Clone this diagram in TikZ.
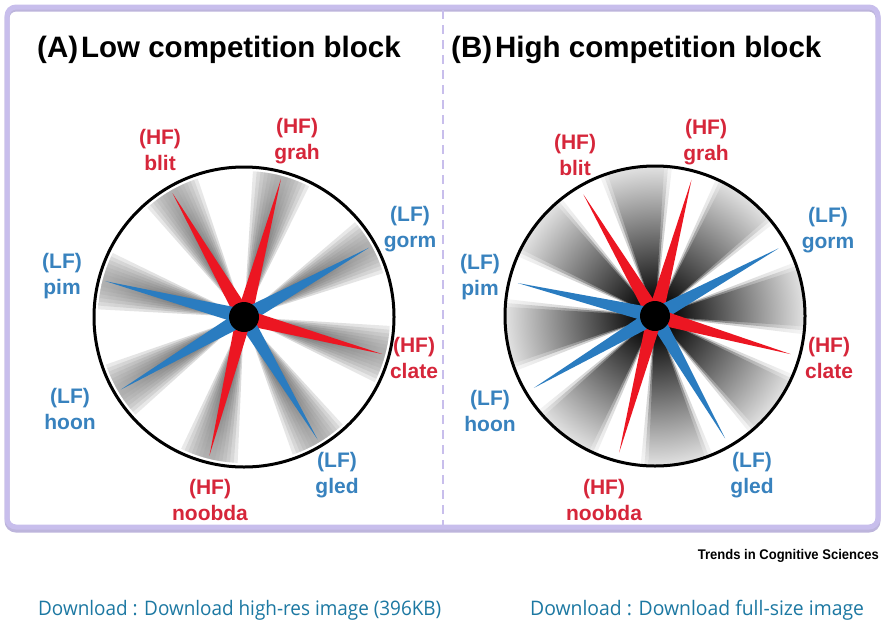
\documentclass[tikz,border=0pt]{standalone}
\usepackage{fontspec}
\setmainfont{Liberation Sans}
\newfontfamily\linkfont{Open Sans}
\usetikzlibrary{calc}
\definecolor{frameC}{RGB}{200,190,236}
\definecolor{spokeRed}{RGB}{236,22,34}
\definecolor{spokeBlue}{RGB}{42,124,192}
\definecolor{labRed}{RGB}{214,38,58}
\definecolor{labBlue}{RGB}{56,130,190}
\definecolor{linkC}{RGB}{28,120,162}
\pgfdeclareradialshading{lowshade}{\pgfpoint{0bp}{0bp}}{color(0bp)=(black!85); color(25bp)=(black!36); color(50bp)=(black!36)}
\pgfdeclareradialshading{highshade}{\pgfpoint{0bp}{0bp}}{color(0bp)=(black); color(2bp)=(black); color(25bp)=(black!12); color(50bp)=(black!12)}
\newcommand{\grayWedge}[6]{%
  \begin{scope}
    \clip (#1) -- ($(#1)+({-(#3)+(#4)}:#2)$) arc[start angle={-(#3)+(#4)}, end angle={-(#3)-(#4)}, radius=#2] -- cycle;
    \shade[shading=#5, fill opacity=#6] (#1) circle[radius=#2];
  \end{scope}}
\newcommand{\spokeTri}[5]{%
  \fill[#5] ($(#1)+({-(#2)}:#3)$) -- ($(#1)+({-(#2)+90}:#4)$) -- ($(#1)+({-(#2)-90}:#4)$) -- cycle;}
\tikzset{
  lab/.style={font=\bfseries\fontsize{21}{26}\selectfont, align=center, inner sep=0pt},
  labR/.style={lab, text=labRed},
  labB/.style={lab, text=labBlue},
  ttl/.style={font=\bfseries\fontsize{29.5}{30}\selectfont, anchor=west, inner sep=0pt},
  ring/.style={draw=black, line width=3},
  hub/.style={fill=black},
}
\begin{document}
\begin{tikzpicture}[x=1pt, y=-1pt]
\useasboundingbox (0,0) rectangle (885,624);
\fill[white] (0,0) rectangle (885,624);
% frame
\draw[frameC!85!gray, line width=5, rounded corners=9] (7,9) rectangle (878,530);
\draw[frameC, line width=5, rounded corners=9] (7,7) rectangle (878,527);
\draw[frameC, line width=1.6, dash pattern=on 9 off 6] (443,10) -- (443,525);
% titles
\node[ttl] (tA) at (37,50) {(A)\hspace{3pt}Low competition block};
\node[ttl] (tB) at (451,50) {(B)\hspace{3pt}High competition block};
% centres
\coordinate (cL) at (244,317);
\coordinate (cH) at (655,316);
% ---------- low competition ----------
\foreach \a in {120,75,29,-15,-59,-104,210.5,165.5}{
  \foreach \w in {11.5,10,8.5,7,5.5,4,2.5}{
    \grayWedge{cL}{146}{\a}{\w}{lowshade}{0.22}
  }
}
\foreach \a/\c in {120/spokeRed,75/spokeRed,29/spokeBlue,-15/spokeRed,-59/spokeBlue,-104/spokeRed,210.5/spokeBlue,165.5/spokeBlue}{
  \spokeTri{cL}{\a}{143}{7.8}{\c}
}
\fill[hub] (cL) circle[radius=15];
\draw[ring] (cL) circle[radius=150];
% ---------- high competition ----------
\foreach \a in {97.5,52,7,-37,-81.5,-127,187.5,142.5}{
  \grayWedge{cH}{149}{\a}{14}{highshade}{0.3}
  \grayWedge{cH}{149}{\a}{12.5}{highshade}{0.6}
  \grayWedge{cH}{149}{\a}{11}{highshade}{1}
}
\foreach \a/\c in {120.5/spokeRed,75/spokeRed,28.7/spokeBlue,-15.7/spokeRed,-60.2/spokeBlue,-104.7/spokeRed,210.7/spokeBlue,166.5/spokeBlue}{
  \spokeTri{cH}{\a}{141}{7.8}{\c}
}
\fill[hub] (cH) circle[radius=15];
\draw[ring] (cH) circle[radius=150];
% labels low
\node[labR] (lblit) at (160,150) {(HF)\\blit};
\node[labR] (lgrah) at (297,141) {(HF)\\grah};
\node[labB] (lgorm) at (410,229) {(LF)\\gorm};
\node[labB] (lpim) at (62,276) {(LF)\\pim};
\node[labR] (lclate) at (414,358) {(HF)\\clate};
\node[labB] (lhoon) at (70,409) {(LF)\\hoon};
\node[labB] (lgled) at (337,475) {(LF)\\gled};
\node[labR] (lnoobda) at (210,500) {(HF)\\noobda};
% labels high
\node[labR] (hblit) at (575,155) {(HF)\\blit};
\node[labR] (hgrah) at (706,142) {(HF)\\grah};
\node[labB] (hgorm) at (828,230) {(LF)\\gorm};
\node[labB] (hpim) at (480,277) {(LF)\\pim};
\node[labR] (hclate) at (829,358) {(HF)\\clate};
\node[labB] (hhoon) at (490,411) {(LF)\\hoon};
\node[labB] (hgled) at (752,475) {(LF)\\gled};
\node[labR] (hnoobda) at (604,500) {(HF)\\noobda};
% footer
\node[anchor=east, inner sep=0pt] (src) at (879,556) {\scalebox{0.93}[1]{\bfseries\fontsize{14}{14}\selectfont Trends in Cognitive Sciences}};
\node[anchor=west, inner sep=0pt, text=linkC] (dl1) at (38,610) {\scalebox{0.946}[1]{\linkfont\fontsize{20}{20}\selectfont Download : Download high-res image (396KB)}};
\node[anchor=west, inner sep=0pt, text=linkC] (dl2) at (530,610) {\scalebox{0.968}[1]{\linkfont\fontsize{20}{20}\selectfont Download : Download full-size image}};
\end{tikzpicture}
\end{document}
